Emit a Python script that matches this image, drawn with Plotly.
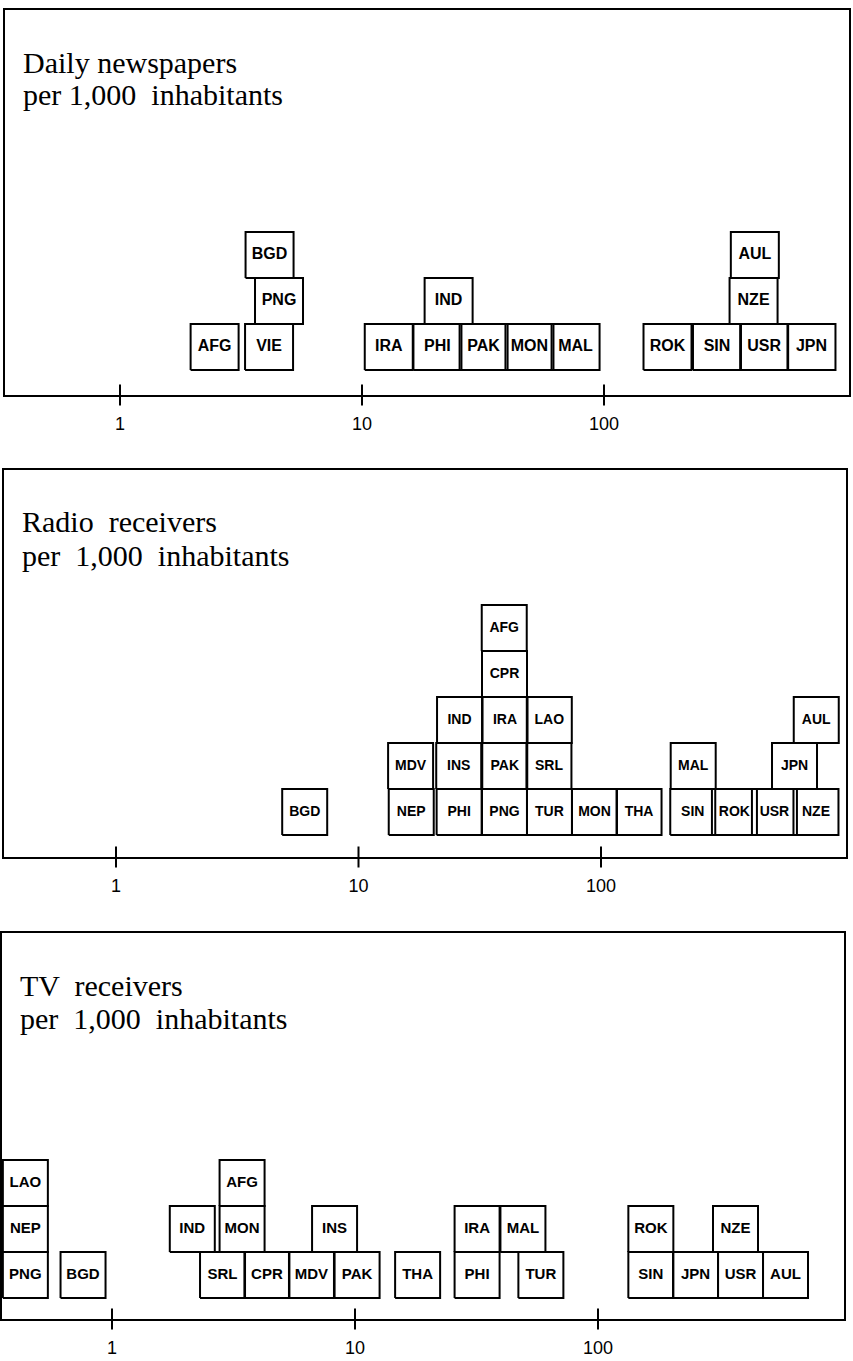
import math
import plotly.graph_objects as go

# ---------------- data (per 1,000 inhabitants) ----------------
news_codes = ["AFG", "VIE", "IRA", "PHI", "PAK", "MON", "MAL", "ROK", "SIN", "USR", "JPN",
              "PNG", "IND", "NZE", "BGD", "AUL"]
news_values = [2.46, 4.13, 12.9, 20.5, 31.8, 49.2, 76.3, 183, 293, 459, 720,
               4.54, 22.8, 415, 4.15, 420]

radio_codes = ["NEP", "PHI", "PNG", "TUR", "MON", "THA", "SIN", "ROK", "USR", "NZE", "BGD",
               "MDV", "INS", "PAK", "SRL", "MAL", "JPN",
               "IND", "IRA", "LAO", "AUL", "CPR", "AFG"]
radio_values = [16.5, 26.0, 40.0, 61.3, 94.0, 143.5, 239, 355, 519, 770, 6.0,
                16.4, 25.9, 40.1, 61.0, 240, 628,
                26.1, 40.2, 61.2, 772, 40.0, 39.9]

tv_codes = ["PNG", "BGD", "SRL", "CPR", "MDV", "PAK", "THA", "PHI", "TUR", "SIN", "JPN", "USR", "AUL",
            "NEP", "IND", "MON", "INS", "IRA", "MAL", "ROK", "NZE",
            "LAO", "AFG"]
tv_values = [0.44, 0.76, 2.85, 4.34, 6.62, 10.2, 18.1, 31.8, 58.2, 165, 252, 386, 591,
             0.44, 2.14, 3.43, 8.24, 31.8, 49.1, 165, 368,
             0.44, 3.43]

panel_titles = [("Daily newspapers", "per 1,000  inhabitants"),
                ("Radio  receivers", "per  1,000  inhabitants"),
                ("TV  receivers", "per  1,000  inhabitants")]
tick_values = [1, 10, 100]
tick_labels = ["1", "10", "100"]

# ---------------- layout geometry (page pixels) ----------------
W, H = 853, 1361
panels = [
    dict(l=5, r=849, t=10, b=395, x1=120, dec=242, bw=48, rh=46, gap=25, fs=16),
    dict(l=4, r=846, t=470, b=857, x1=116, dec=242.5, bw=45, rh=46, gap=22, fs=14),
    dict(l=2, r=844, t=933, b=1319, x1=112, dec=243, bw=45, rh=46, gap=21, fs=15),
]
datasets = [(news_codes, news_values), (radio_codes, radio_values), (tv_codes, tv_values)]


def px_x(px):
    return px / W


def px_y(py):
    return 1 - py / H


def stack_levels(values, wdec, tol):
    placed, levels = [], []
    for v in values:
        c = math.log10(v)
        lvl = 0
        while any(lv == lvl and abs(pc - c) < wdec - tol for pc, lv in placed):
            lvl += 1
        placed.append((c, lvl))
        levels.append(lvl)
    return levels


fig = go.Figure()
layout_axes = {}
annotations = []

for i, (p, (codes, vals)) in enumerate(zip(panels, datasets), start=1):
    xa = "x" if i == 1 else f"x{i}"
    ya = "y" if i == 1 else f"y{i}"
    wdec = p["bw"] / p["dec"]
    half = wdec / 2
    levels = stack_levels(vals, wdec, 0.03)

    bx, by = [], []
    for v, lv in zip(vals, levels):
        x0 = v / 10 ** half
        x1 = v * 10 ** half
        bx += [x0, x1, x1, x0, x0, None]
        by += [lv, lv, lv + 1, lv + 1, lv, None]
    fig.add_trace(go.Scatter(x=bx, y=by, mode="lines", xaxis=xa, yaxis=ya,
                             line=dict(color="black", width=2), hoverinfo="skip",
                             showlegend=False))
    fig.add_trace(go.Scatter(x=vals, y=[lv + 0.5 for lv in levels], mode="text", text=codes,
                             xaxis=xa, yaxis=ya, showlegend=False,
                             textfont=dict(family="Liberation Sans, Arial, sans-serif",
                                           size=p["fs"], color="black", weight="bold"),
                             textposition="middle center"))

    ymin = -p["gap"] / p["rh"]
    ymax = (p["b"] - p["gap"] - p["t"]) / p["rh"]
    fig.add_trace(go.Scatter(x=tick_values, y=[ymin] * 3, mode="markers", xaxis=xa, yaxis=ya,
                             marker=dict(symbol="line-ns", size=15,
                                         line=dict(color="black", width=2)),
                             cliponaxis=False, hoverinfo="skip", showlegend=False))

    lo = (p["l"] - p["x1"]) / p["dec"]
    hi = (p["r"] - p["x1"]) / p["dec"]
    layout_axes["xaxis" if i == 1 else f"xaxis{i}"] = dict(
        type="log", range=[lo, hi], domain=[px_x(p["l"]), px_x(p["r"])], anchor=ya,
        tickvals=tick_values, ticktext=tick_labels, ticks="", showgrid=False, zeroline=False,
        showline=True, mirror=True, linecolor="black", linewidth=2,
        tickfont=dict(family="Liberation Sans, Arial, sans-serif", size=18, color="black"),
        ticklabelstandoff=11, fixedrange=True)
    layout_axes["yaxis" if i == 1 else f"yaxis{i}"] = dict(
        range=[ymin, ymax], domain=[px_y(p["b"]), px_y(p["t"])], anchor=xa,
        showticklabels=False, ticks="", showgrid=False, zeroline=False,
        showline=True, mirror=True, linecolor="black", linewidth=2, fixedrange=True)

    for k, line in enumerate(panel_titles[i - 1]):
        annotations.append(dict(
            text=line, xref="paper", yref="paper", x=px_x(p["l"] + 16),
            y=px_y(p["t"] + 52 + 33 * k), xanchor="left", yanchor="middle",
            showarrow=False,
            font=dict(family="Liberation Serif, Times New Roman, serif", size=30, color="black")))

fig.update_layout(width=W, height=H, margin=dict(l=0, r=0, t=0, b=0),
                  paper_bgcolor="white", plot_bgcolor="white",
                  annotations=annotations, **layout_axes)

fig.write_html("out.html", config={"displayModeBar": False},
               post_script="document.body.style.margin='0';document.body.style.overflow='hidden';")
